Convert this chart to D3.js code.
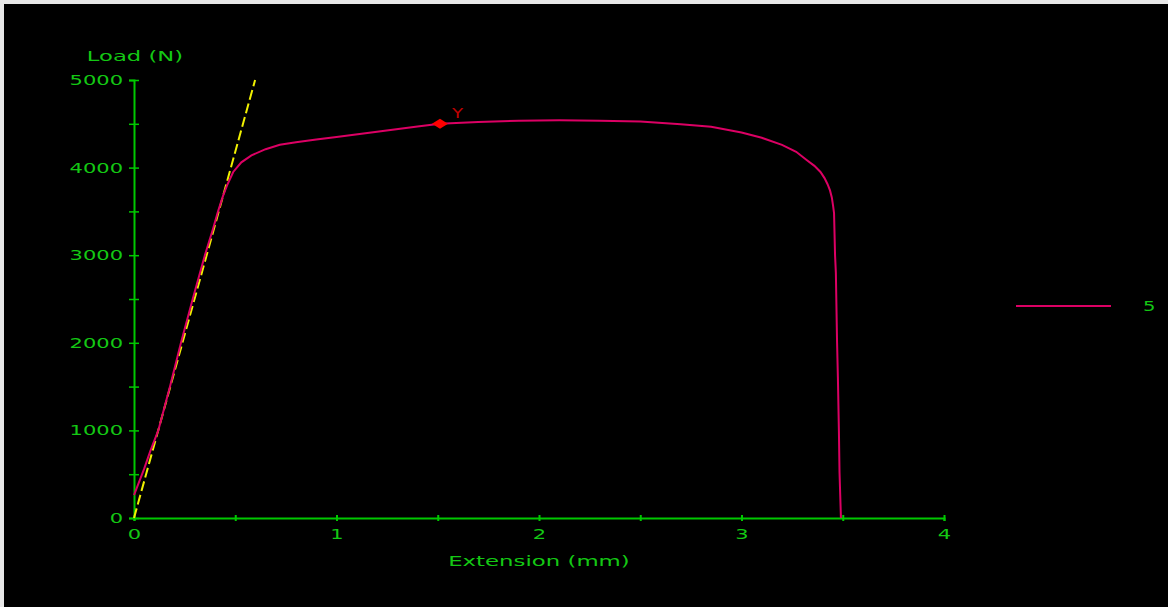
<!DOCTYPE html>
<html>
<head>
<meta charset="utf-8">
<script src="https://cdn.jsdelivr.net/npm/d3@7"></script>
<style>
  html, body { margin: 0; padding: 0; background: #e8e8e8; }
  #chart { width: 1168px; height: 607px; }
  text { font-family: "DejaVu Sans", sans-serif; }
</style>
</head>
<body>
<div id="chart"></div>
<script>
// data: extension (mm) vs load (N)
var extension = [0, 0.02, 0.05, 0.08, 0.12, 0.18, 0.232, 0.29, 0.35, 0.39, 0.415, 0.44, 0.46, 0.49, 0.53, 0.58, 0.65, 0.72, 0.8, 0.9, 1.0, 1.2, 1.4, 1.51, 1.7, 1.9, 2.1, 2.3, 2.5, 2.7, 2.85, 3.0, 3.1, 3.2, 3.27, 3.32, 3.36, 3.39, 3.41, 3.425, 3.437, 3.446, 3.452, 3.457, 3.462, 3.466, 3.472, 3.476, 3.481, 3.484, 3.491];
var load = [260, 380, 560, 760, 1000, 1520, 2000, 2500, 3000, 3300, 3500, 3680, 3800, 3950, 4060, 4140, 4210, 4260, 4290, 4320, 4350, 4410, 4470, 4500, 4520, 4535, 4540, 4535, 4525, 4495, 4465, 4400, 4340, 4260, 4180, 4090, 4020, 3950, 3880, 3810, 3740, 3660, 3570, 3480, 3000, 2800, 2000, 1610, 1000, 525, 0];

// modulus (slope) line
var slopeExt = [0, 0.598];
var slopeLoad = [0, 5000];

// yield point
var yieldPoint = [1.511, 4500];

var xTicks = [0, 0.5, 1, 1.5, 2, 2.5, 3, 3.5, 4];
var yTicks = [0, 500, 1000, 1500, 2000, 2500, 3000, 3500, 4000, 4500, 5000];
var seriesName = "5";

function init() {
    var w = 1168, h = 607;
    var green = "#00c800", textGreen = "#14c814", magenta = "#dc0064";

    var svg = d3.select("#chart").append("svg")
                .attr("width", w)
                .attr("height", h);

    // black plot window with the light frame on top/left
    svg.append("rect").attr("x", 4).attr("y", 4)
        .attr("width", w - 4).attr("height", h - 4)
        .attr("fill", "#000");

    var x = d3.scaleLinear().domain([0, 4]).range([134, 944]);
    var y = d3.scaleLinear().domain([0, 5000]).range([518, 80]);

    // wide pixel-like text
    function widen(sel, factor) {
        sel.each(function() {
            var len = this.getComputedTextLength();
            d3.select(this).attr("textLength", len * factor)
                .attr("lengthAdjust", "spacingAndGlyphs");
        });
    }

    // y axis
    var yAxis = svg.append("g")
        .attr("transform", "translate(" + x(0) + ",0)")
        .call(d3.axisLeft(y).tickValues(yTicks).tickSize(5).tickPadding(6)
            .tickFormat(function(d) { return d % 1000 === 0 ? d : ""; }));
    yAxis.select(".domain").attr("stroke", green).attr("stroke-width", 2);
    yAxis.selectAll(".tick line").attr("stroke", green).attr("stroke-width", 1.5).attr("x1", 5);
    yAxis.selectAll(".tick text").attr("fill", textGreen)
        .attr("font-size", 14).attr("font-family", "DejaVu Sans").call(widen, 1.5);

    // x axis
    var xAxis = svg.append("g")
        .attr("transform", "translate(0," + y(0) + ")")
        .call(d3.axisBottom(x).tickValues(xTicks).tickSize(3).tickPadding(8)
            .tickFormat(function(d) { return Number.isInteger(d) ? d : ""; }));
    xAxis.select(".domain").attr("stroke", green).attr("stroke-width", 2);
    xAxis.selectAll(".tick line").attr("stroke", green).attr("stroke-width", 2).attr("y1", -3);
    xAxis.selectAll(".tick text").attr("fill", textGreen)
        .attr("font-size", 14).attr("font-family", "DejaVu Sans").call(widen, 1.5);

    // axis titles
    svg.append("text").attr("x", x(0) + 1).attr("y", 61)
        .attr("text-anchor", "middle").attr("fill", textGreen)
        .attr("font-size", 14).text("Load (N)").call(widen, 1.62);
    svg.append("text").attr("x", x(2)).attr("y", 566)
        .attr("text-anchor", "middle").attr("fill", textGreen)
        .attr("font-size", 14).text("Extension (mm)").call(widen, 1.63);

    // yellow dashed slope line
    var slopeLine = d3.line()
        .x(function(d, i) { return x(slopeExt[i]); })
        .y(function(d, i) { return y(slopeLoad[i]); });
    svg.append("path").datum(slopeExt)
        .attr("d", slopeLine)
        .attr("fill", "none").attr("stroke", "#f0f000")
        .attr("stroke-width", 2).attr("stroke-dasharray", "10,4");

    // test curve
    var curve = d3.line()
        .x(function(d, i) { return x(extension[i]); })
        .y(function(d, i) { return y(load[i]); });
    svg.append("path").datum(extension)
        .attr("d", curve)
        .attr("fill", "none").attr("stroke", magenta)
        .attr("stroke-width", 2);

    // yield marker
    var yx = x(yieldPoint[0]), yy = y(yieldPoint[1]);
    svg.append("path")
        .attr("d", "M" + (yx - 8) + "," + yy + "L" + yx + "," + (yy - 5) +
                   "L" + (yx + 8) + "," + yy + "L" + yx + "," + (yy + 5) + "Z")
        .attr("fill", "#ff0000");
    svg.append("text").attr("x", yx + 12).attr("y", yy - 6)
        .attr("fill", "#c00000").attr("font-size", 14).text("Y").call(widen, 1.3);

    // legend
    svg.append("line").attr("x1", 1016).attr("x2", 1111)
        .attr("y1", 306).attr("y2", 306)
        .attr("stroke", magenta).attr("stroke-width", 2);
    svg.append("text").attr("x", 1143).attr("y", 311)
        .attr("fill", textGreen).attr("font-size", 14).text(seriesName).call(widen, 1.4);
}

window.onload = init;
</script>
</body>
</html>
